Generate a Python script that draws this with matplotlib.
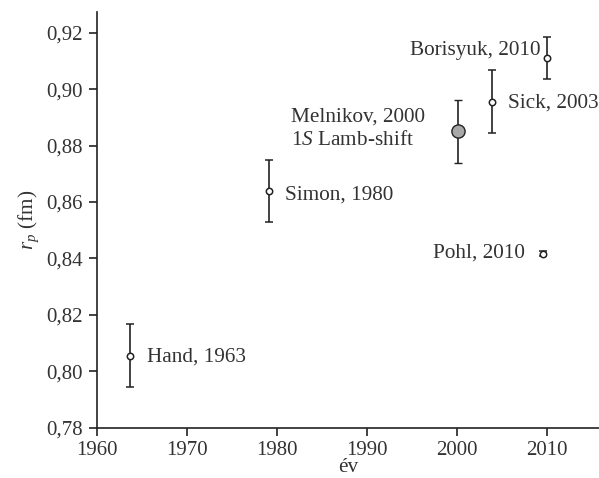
import matplotlib
matplotlib.use("Agg")
import matplotlib.pyplot as plt
from matplotlib.ticker import FuncFormatter

plt.rcParams['font.family'] = ['Liberation Serif', 'DejaVu Serif']
plt.rcParams['mathtext.fontset'] = 'custom'
plt.rcParams['mathtext.rm'] = 'Liberation Serif'
plt.rcParams['mathtext.it'] = 'Liberation Serif:italic'

# Data
names = ["Hand, 1963", "Simon, 1980", "Melnikov, 2000", "Sick, 2003", "Borisyuk, 2010", "Pohl, 2010"]
years = [1963.7, 1979.1, 2000.1, 2003.95, 2010.0, 2009.6]
radius = [0.8055, 0.8640, 0.8850, 0.8955, 0.9110, 0.8417]
errors = [0.0112, 0.0110, 0.0112, 0.0112, 0.0075, 0.0010]
xticks = [1960, 1970, 1980, 1990, 2000, 2010]
yticks = [0.78, 0.80, 0.82, 0.84, 0.86, 0.88, 0.90, 0.92]

fig = plt.figure(figsize=(5.99, 4.78), dpi=100)
ax = fig.add_axes([0.1614, 0.1056, 0.8386, 0.8699])

ink = '#222222'
for i, (x, y, e) in enumerate(zip(years, radius, errors)):
    if i == 2:
        ax.errorbar(x, y, yerr=e, fmt='o', ms=9.5, mfc='#a8a8a8', mec=ink,
                    mew=1.0, ecolor=ink, elinewidth=1.2, capsize=3.2, capthick=1.2, zorder=3)
    else:
        ax.errorbar(x, y, yerr=e, fmt='o', ms=4.6, mfc='white', mec=ink,
                    mew=1.1, ecolor=ink, elinewidth=1.2, capsize=3.2, capthick=1.2, zorder=3)

fs = 15.3
tc = '#333333'
ax.text(years[0] + 1.9, radius[0] - 0.0005, names[0], fontsize=fs, va='center', ha='left', color=tc)
ax.text(years[1] + 1.85, radius[1] - 0.0015, names[1], fontsize=fs, va='center', ha='left', color=tc)
ax.text(1981.6, 0.8900, names[2], fontsize=fs, va='center', ha='left', color=tc)
ax.text(1981.6, 0.8818, r"1$\mathit{S}$ Lamb-shift", fontsize=fs, va='center', ha='left', color=tc)
ax.text(years[3] + 1.7, radius[3] - 0.0003, names[3], fontsize=fs, va='center', ha='left', color=tc)
ax.text(years[4] - 0.75, radius[4] + 0.0028, names[4], fontsize=fs, va='center', ha='right', color=tc)
ax.text(years[5] - 2.0, radius[5], names[5], fontsize=fs, va='center', ha='right', color=tc)

ax.set_xlim(1960, 2015.8)
ax.set_ylim(0.78, 0.92745)
ax.set_xticks(xticks)
ax.set_yticks(yticks)
ax.yaxis.set_major_formatter(FuncFormatter(lambda v, p: f"{v:.2f}".replace('.', ',')))

for s in ['top', 'right']:
    ax.spines[s].set_visible(False)
for s in ['left', 'bottom']:
    ax.spines[s].set_linewidth(1.2)
    ax.spines[s].set_color(ink)
ax.tick_params(direction='out', length=6, width=1.2, color=ink, labelsize=15, labelcolor=tc)
ax.tick_params(axis='x', pad=3.5)
ax.tick_params(axis='y', pad=4)

ax.set_xlabel("év", fontsize=fs, color=tc, labelpad=-1)
ax.set_ylabel(r"$r_p$ (fm)", fontsize=fs, color=tc, labelpad=4)

fig.savefig("out.png", dpi=100)
